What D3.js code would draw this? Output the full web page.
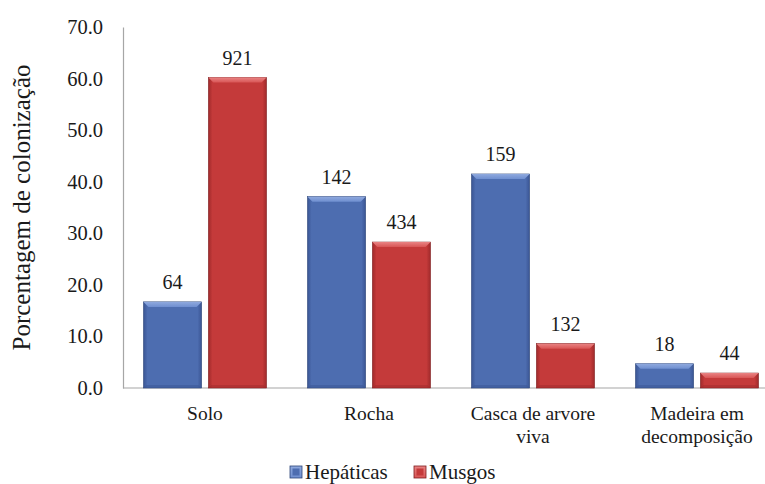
<!DOCTYPE html>
<html>
<head>
<meta charset="utf-8">
<script src="https://cdn.jsdelivr.net/npm/d3@7"></script>
<style>
  html, body { margin: 0; padding: 0; background: #fff; }
</style>
</head>
<body>
<svg id="chart" width="765" height="484"></svg>
<script>
// Substrate categories (lines split for wrapped axis labels)
const categories = ["Solo", "Rocha", "Casca de arvore viva", "Madeira em decomposição"];
const categoryLines = [["Solo"], ["Rocha"], ["Casca de arvore", "viva"], ["Madeira em", "decomposição"]];
const seriesNames = ["Hepáticas", "Musgos"];
// Percentage of colonisation per substrate
const hepaticasPct = [16.7, 37.1, 41.5, 4.7];
const musgosPct = [60.2, 28.3, 8.6, 2.9];
// Number of records shown above each bar
const hepaticasCount = [64, 142, 159, 18];
const musgosCount = [921, 434, 132, 44];
const yTicks = [0, 10, 20, 30, 40, 50, 60, 70];

const FONT = "'Liberation Serif', 'Times New Roman', serif";
const svg = d3.select("#chart");
const margin = { left: 123, top: 27, bottom: 388 };
const x0 = d3.scaleBand().domain(categories).range([123, 779]).paddingInner(0).paddingOuter(0);
const x1 = d3.scaleBand().domain(seriesNames).range([20.5, 164 - 20.5]).paddingInner(0.105);
const y = d3.scaleLinear().domain([0, 70]).range([388, 27]);

const palette = {
  "Hepáticas": { dark: "#3a5594", mid: "#4d6db0", light: "#6f8fd0", top: "#8fa9de", edge: "#2c4478" },
  "Musgos": { dark: "#a02a2b", mid: "#c43a3a", light: "#d85555", top: "#e98383", edge: "#7e1d1e" }
};

const defs = svg.append("defs");
seriesNames.forEach((s, i) => {
  const c = palette[s];
  const g = defs.append("linearGradient").attr("id", "body" + i)
    .attr("x1", "0").attr("x2", "1").attr("y1", "0").attr("y2", "0");
  g.append("stop").attr("offset", "0").attr("stop-color", c.dark);
  g.append("stop").attr("offset", "0.07").attr("stop-color", c.mid);
  g.append("stop").attr("offset", "0.93").attr("stop-color", c.mid);
  g.append("stop").attr("offset", "1").attr("stop-color", c.dark);
  const t = defs.append("linearGradient").attr("id", "top" + i)
    .attr("x1", "0").attr("x2", "0").attr("y1", "0").attr("y2", "1");
  t.append("stop").attr("offset", "0").attr("stop-color", c.top);
  t.append("stop").attr("offset", "1").attr("stop-color", c.light);
});

// Axes
const yAxis = d3.axisLeft(y).tickValues(yTicks).tickSize(0).tickPadding(20)
  .tickFormat(d3.format(".1f"));
const gy = svg.append("g").attr("transform", `translate(${margin.left},0)`).call(yAxis)
  .attr("font-family", null).attr("font-size", null);
gy.select(".domain").attr("stroke", "#a6a6a6").attr("stroke-width", 1.2);
gy.selectAll("text").attr("fill", "#1a1a1a")
  .style("font-family", FONT).style("font-size", "20.5px");

svg.append("line").attr("x1", margin.left).attr("x2", 779)
  .attr("y1", y(0)).attr("y2", y(0)).attr("stroke", "#a6a6a6").attr("stroke-width", 1.2);

// Category labels
const xl = svg.append("g");
categories.forEach((c, i) => {
  const cx = x0(c) + x0.bandwidth() / 2;
  const t = xl.append("text").attr("x", cx).attr("y", 420).attr("text-anchor", "middle")
    .attr("fill", "#1a1a1a")
    .style("font-family", FONT).style("font-size", "19.5px");
  categoryLines[i].forEach((ln, j) => {
    t.append("tspan").attr("x", cx).attr("dy", j === 0 ? 0 : 23).text(ln);
  });
});

// Y axis title
svg.append("text")
  .attr("transform", `translate(30,${(y(0) + y(70)) / 2}) rotate(-90)`)
  .attr("text-anchor", "middle").attr("fill", "#1a1a1a")
  .style("font-family", FONT).style("font-size", "25px")
  .text("Porcentagem de colonização");

// Bars
const rows = categories.map((c, i) => ({
  cat: c,
  vals: [
    { s: "Hepáticas", idx: 0, pct: hepaticasPct[i], n: hepaticasCount[i] },
    { s: "Musgos", idx: 1, pct: musgosPct[i], n: musgosCount[i] }
  ]
}));

const groups = svg.append("g").selectAll("g").data(rows).join("g")
  .attr("transform", d => `translate(${x0(d.cat)},0)`);

const bars = groups.selectAll("g.bar").data(d => d.vals).join("g").attr("class", "bar");
bars.each(function(d) {
  const g = d3.select(this);
  const bx = x1(d.s), bw = x1.bandwidth();
  const top = y(d.pct), bottom = y(0);
  const c = palette[d.s];
  const bev = Math.min(5, (bottom - top) / 2);
  g.append("rect").attr("x", bx).attr("y", top).attr("width", bw).attr("height", bottom - top)
    .attr("fill", `url(#body${d.idx})`).attr("stroke", c.edge).attr("stroke-width", 0.6);
  // top bevel
  g.append("path")
    .attr("d", `M${bx},${top} L${bx + bw},${top} L${bx + bw - bev},${top + bev} L${bx + bev},${top + bev} Z`)
    .attr("fill", `url(#top${d.idx})`);
  // bottom bevel shade
  g.append("path")
    .attr("d", `M${bx},${bottom} L${bx + bw},${bottom} L${bx + bw - 3},${bottom - 3} L${bx + 3},${bottom - 3} Z`)
    .attr("fill", c.dark).attr("opacity", 0.5);
  g.append("text").attr("x", bx + bw / 2).attr("y", top - 13).attr("text-anchor", "middle")
    .attr("fill", "#1a1a1a")
    .style("font-family", FONT).style("font-size", "20px").text(d.n);
});

// Legend
const legend = svg.append("g");
const legendX = [290, 414];
seriesNames.forEach((s, i) => {
  const c = palette[s];
  legend.append("rect").attr("x", legendX[i]).attr("y", 466).attr("width", 12).attr("height", 12)
    .attr("fill", `url(#top${i})`).attr("stroke", c.edge).attr("stroke-width", 0.8);
  legend.append("rect").attr("x", legendX[i] + 2.5).attr("y", 468.5).attr("width", 7).attr("height", 7)
    .attr("fill", c.mid);
  legend.append("text").attr("x", legendX[i] + 15).attr("y", 478.5).attr("fill", "#1a1a1a")
    .style("font-family", FONT).style("font-size", "21px").text(s);
});
</script>
</body>
</html>
